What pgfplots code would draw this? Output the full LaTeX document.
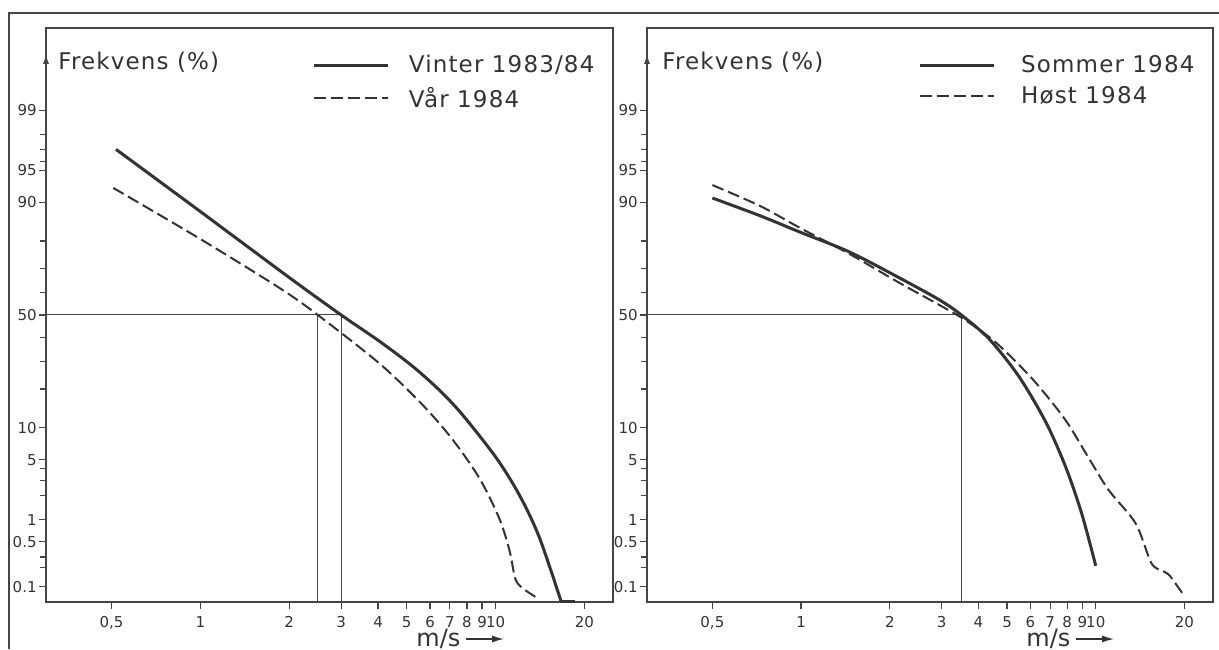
\documentclass[border=0pt]{standalone}
\usepackage{fontspec}
\setmainfont{DejaVu Sans}
\usepackage{pgfplots}
\pgfplotsset{compat=1.18}
\usetikzlibrary{arrows.meta}
\definecolor{ink}{HTML}{333333}
\definecolor{frame}{HTML}{454545}
\newcommand{\bigfont}{\fontsize{11.5}{13}\selectfont\addfontfeature{LetterSpace=5}}
\pgfplotsset{
  y coord trafo/.code={%
    \pgfmathparse{min(#1,100-#1)/100}\let\probQ\pgfmathresult
    \pgfmathparse{sqrt(-2*ln(\probQ))}\let\probT\pgfmathresult
    \pgfmathparse{((#1>50)-(#1<50))*(\probT-(2.515517+0.802853*\probT+0.010328*\probT*\probT)/(1+1.432788*\probT+0.189269*\probT*\probT+0.001308*\probT*\probT*\probT))}%
  },
  legend image code/.code={\draw[#1] (0pt,0pt) -- (37pt,0pt);},
}
\begin{document}
\begin{tikzpicture}
\path[use as bounding box] (0pt,0pt) rectangle (609.5pt,324.5pt);
\draw[frame, line width=0.8pt] (4.5pt,0pt) -- (4.5pt,318pt) -- (609.5pt,318pt);

% ---------- left panel ----------
\begin{axis}[
    scale only axis, width=283.5pt, height=287pt, at={(23pt,23.5pt)}, anchor=south west,
    xmode=log, xmin=0.3, xmax=25, ymin=0.056, ymax=99.944,
    axis line style={frame, line width=0.8pt},
    tick style={frame, line width=0.6pt},
    major tick length=3.5pt, minor tick length=3pt,
    tick align=outside, tick pos=left,
    xtick={0.5,1,2,3,4,5,6,7,8,9,10,20},
    xticklabels={{0,5},1,2,3,4,5,6,7,8,9,10,20},
    xminorticks=false,
    ytick={99,95,90,50,10,5,1,0.5,0.1},
    yticklabels={99,95,90,50,10,5,1,0.5,0.1},
    minor ytick={98,97,96,80,70,60,40,30,20,4,3,2,0.3,0.2},
    ticklabel style={font=\fontsize{7.5}{8.5}\selectfont, text=ink},
    yticklabel style={inner xsep=1pt},
    clip=false,
    legend style={draw=none, fill=none, at={(0.975,0.96)}, anchor=north east,
      font=\bigfont, text=ink, inner sep=0pt, row sep=1.5pt,
      /tikz/every odd column/.append style={column sep=7.5pt}},
    legend cell align=left,
]
\addplot[frame, line width=0.5pt, forget plot] coordinates {(0.3,50) (3,50)};
\addplot[frame, line width=0.5pt, forget plot] coordinates {(2.5,50) (2.5,0.056)};
\addplot[frame, line width=0.5pt, forget plot] coordinates {(3,50) (3,0.056)};
\addplot[ink, line width=1.5pt, smooth, tension=0.5] coordinates {
 (0.518,97.0) (1.0,88.0) (2.0,66.5) (3.0,50) (4.06,38.1) (5.25,27.9)
 (6.48,19.5) (7.74,12.8) (10.08,5.19) (12.05,2.04) (14.07,0.58) (16.7,0.056)};
\addlegendentry{Vinter 1983/84}
\addplot[ink, line width=1pt, dash pattern=on 6pt off 2.5pt, smooth, tension=0.5] coordinates {
 (0.507,92.55) (1.0,80.6) (1.868,61.8) (2.5,50) (4.06,28.9) (5.67,15.3)
 (7.16,7.84) (8.83,3.17) (10.3,1.04) (11.15,0.376) (11.68,0.135) (12.43,0.094) (14.07,0.062)};
\addlegendentry{Vår 1984}
\addplot[ink, line width=1.5pt, forget plot] coordinates {(16.7,0.056) (18.6,0.056)};
\node[anchor=base west, font=\bigfont, text=ink, inner sep=0pt] at (rel axis cs:0.021,0.927) {Frekvens (\%)};
\draw[frame, line width=0.8pt, -{Latex[length=5pt,width=3pt]}] (rel axis cs:0,0.92) -- (rel axis cs:0,0.955);
\end{axis}

% ---------- right panel ----------
\begin{axis}[
    scale only axis, width=283pt, height=287pt, at={(323.5pt,23.5pt)}, anchor=south west,
    xmode=log, xmin=0.3, xmax=25, ymin=0.056, ymax=99.944,
    axis line style={frame, line width=0.8pt},
    tick style={frame, line width=0.6pt},
    major tick length=3.5pt, minor tick length=3pt,
    tick align=outside, tick pos=left,
    xtick={0.5,1,2,3,4,5,6,7,8,9,10,20},
    xticklabels={{0,5},1,2,3,4,5,6,7,8,9,10,20},
    xminorticks=false,
    ytick={99,95,90,50,10,5,1,0.5,0.1},
    yticklabels={99,95,90,50,10,5,1,0.5,0.1},
    minor ytick={98,97,96,80,70,60,40,30,20,4,3,2,0.3,0.2},
    ticklabel style={font=\fontsize{7.5}{8.5}\selectfont, text=ink},
    yticklabel style={inner xsep=1pt},
    clip=false,
    legend style={draw=none, fill=none, at={(0.975,0.96)}, anchor=north east,
      font=\bigfont, text=ink, inner sep=0pt, row sep=1.5pt,
      /tikz/every odd column/.append style={column sep=11pt}},
    legend cell align=left,
]
\addplot[frame, line width=0.5pt, forget plot] coordinates {(0.3,50) (3.5,50)};
\addplot[frame, line width=0.5pt, forget plot] coordinates {(3.5,50) (3.5,0.056)};
\addplot[ink, line width=1.5pt, smooth, tension=0.5] coordinates {
 (0.5,90.8) (0.727,87.0) (0.99,82.7) (1.46,76.3) (2.16,66.3) (2.95,56.8)
 (3.5,50) (4.35,39.2) (5.49,24.2) (6.78,11.1) (7.92,4.16) (8.97,1.19) (10.0,0.22)};
\addlegendentry{Sommer 1984}
\addplot[ink, line width=1pt, dash pattern=on 6pt off 2.5pt, smooth, tension=0.5] coordinates {
 (0.5,93.0) (0.727,89.2) (0.99,83.9) (1.46,75.6) (2.16,64.2) (2.95,54.5)
 (3.52,48.6) (4.35,40.1) (5.08,32.5) (6.27,22.0) (7.92,11.5) (9.47,5.2)
 (11.06,2.34) (13.65,0.90) (15.46,0.24) (16.98,0.18) (17.9,0.15) (20.0,0.070)};
\addlegendentry{Høst 1984}
\node[anchor=base west, font=\bigfont, text=ink, inner sep=0pt] at (rel axis cs:0.0265,0.927) {Frekvens (\%)};
\draw[frame, line width=0.8pt, -{Latex[length=5pt,width=3pt]}] (rel axis cs:0,0.92) -- (rel axis cs:0,0.955);
\end{axis}

% axis unit labels
\node[anchor=base west, font=\fontsize{12}{14}\selectfont, text=ink, inner sep=0pt] at (208pt,1.5pt) {m/s};
\draw[ink, line width=0.7pt, -{Latex[length=6pt,width=3.5pt]}] (233pt,5pt) -- (252pt,5pt);
\node[anchor=base west, font=\fontsize{12}{14}\selectfont, text=ink, inner sep=0pt] at (513pt,1.5pt) {m/s};
\draw[ink, line width=0.7pt, -{Latex[length=6pt,width=3.5pt]}] (538pt,5pt) -- (557pt,5pt);
\end{tikzpicture}
\end{document}
